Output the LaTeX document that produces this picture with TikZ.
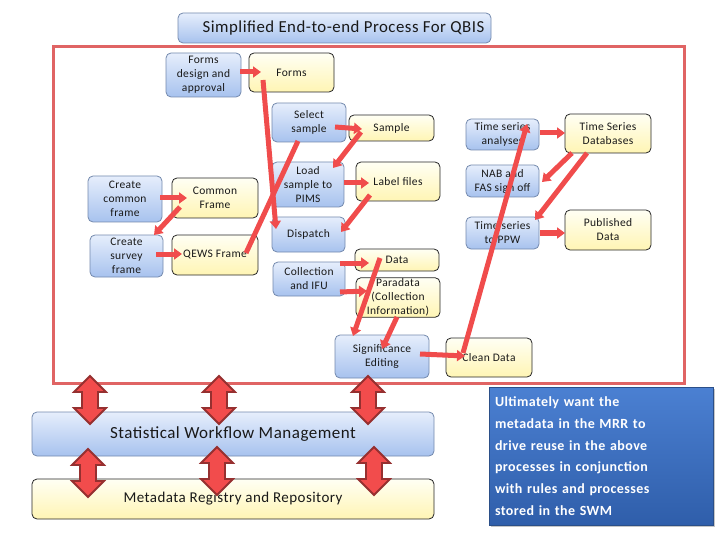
\documentclass[tikz,border=0pt]{standalone}
\usepackage{fontspec}
\setmainfont{Carlito}[LetterSpace=3]
\usetikzlibrary{arrows.meta,calc,shadows}
\definecolor{btop}{HTML}{E6EEFC}
\definecolor{bbot}{HTML}{A7C2EE}
\definecolor{bdraw}{HTML}{7389AD}
\definecolor{ytop}{HTML}{FFFFF4}
\definecolor{ybot}{HTML}{FFF5B4}
\definecolor{linkred}{HTML}{F04C4C}
\definecolor{framered}{HTML}{E06464}
\definecolor{arrfill}{HTML}{F24C4C}
\definecolor{arrdraw}{HTML}{963030}
\definecolor{ntop}{HTML}{4B80D2}
\definecolor{nbot}{HTML}{2F5EAA}
\definecolor{ndraw}{HTML}{2B4F88}
\newcommand\dblarr[3]{%
  \draw[blockarr] (#1,#2) -- ({#1+16},{#2+16}) -- ({#1+8},{#2+16}) -- ({#1+8},{#3-16}) -- ({#1+16},{#3-16}) -- (#1,#3) -- ({#1-16},{#3-16}) -- ({#1-8},{#3-16}) -- ({#1-8},{#2+16}) -- ({#1-16},{#2+16}) -- cycle;}
\begin{document}
\begin{tikzpicture}[x=1pt,y=-1pt,
  bluebox/.style={draw=bdraw, line width=0.8pt, rounded corners=5pt, top color=btop, bottom color=bbot, align=center, inner sep=1pt, text=black!90, font=\fontsize{11.5}{14}\selectfont},
  yellowbox/.style={draw=black!85, line width=0.8pt, rounded corners=5pt, top color=ytop, bottom color=ybot, align=center, inner sep=1pt, text=black!90, font=\fontsize{11.5}{14}\selectfont},
  link/.style={draw=linkred, line width=5pt, -{Triangle[length=8pt,width=11pt]}},
  plainlink/.style={draw=linkred, line width=5pt},
  blockarr/.style={fill=arrfill, draw=arrdraw, line width=1.8pt, line join=miter},
  notebox/.style={draw=ndraw, line width=0.8pt, top color=ntop, bottom color=nbot, text=white, align=left, text width=212pt, inner sep=0pt, font=\fontsize{14}{21.7}\selectfont\bfseries, drop shadow={opacity=0.45, shadow xshift=2pt, shadow yshift=-2pt}}
]
\useasboundingbox (0,0) rectangle (720,540);
% title
\node[bluebox, inner sep=0pt, minimum width=313pt, minimum height=30pt, font=\fontsize{16.8}{20}\selectfont] (title) at (334.5,28) {\hspace*{18pt}Simplified End-to-end Process For QBIS};
% frame
\draw[framered, line width=3pt] (53,47) rectangle (684,383);
% process nodes
\node[bluebox, minimum width=75pt, minimum height=44pt] (fda) at (203.5,75) {Forms\\design and\\approval};
\node[yellowbox, minimum width=85pt, minimum height=39pt] (forms) at (291.5,72.5) {Forms};
\node[bluebox, minimum width=74pt, minimum height=39pt] (sel) at (309,122.5) {Select\\sample};
\node[yellowbox, minimum width=85pt, minimum height=26pt] (samp) at (391.5,128) {Sample};
\node[bluebox, minimum width=72pt, minimum height=45pt] (load) at (308,184.5) {Load\\sample to\\PIMS};
\node[yellowbox, minimum width=84pt, minimum height=39pt] (lab) at (398,181.5) {Label files};
\node[bluebox, minimum width=73pt, minimum height=35pt] (disp) at (308.5,234.5) {Dispatch};
\node[bluebox, minimum width=72pt, minimum height=34pt] (coll) at (309,279) {Collection\\and IFU};
\node[yellowbox, minimum width=84pt, minimum height=22pt] (data) at (397,260) {Data};
\node[yellowbox, minimum width=84pt, minimum height=39pt] (para) at (398,297.5) {Paradata\\(Collection\\Information)};
\node[bluebox, minimum width=94pt, minimum height=43pt] (sig) at (382,356.5) {Significance\\Editing};
\node[yellowbox, minimum width=86pt, minimum height=39pt] (clean) at (489,357.5) {Clean Data};
\node[bluebox, minimum width=74pt, minimum height=46pt] (ccf) at (125,199) {Create\\common\\frame};
\node[yellowbox, minimum width=86pt, minimum height=40pt] (cf) at (215,198) {Common\\Frame};
\node[bluebox, minimum width=73pt, minimum height=42pt] (csf) at (126.5,256) {Create\\survey\\frame};
\node[yellowbox, minimum width=86pt, minimum height=40pt] (qews) at (215,255) {QEWS Frame};
\node[bluebox, minimum width=73pt, minimum height=31pt] (tsa) at (502.5,134.5) {Time series\\analyses};
\node[yellowbox, minimum width=86pt, minimum height=39pt] (tsdb) at (608,133.5) {Time Series\\Databases};
\node[bluebox, minimum width=73pt, minimum height=32pt] (nab) at (502.5,181) {NAB and\\FAS sign off};
\node[bluebox, minimum width=73pt, minimum height=32pt] (ppw) at (502.5,233) {Time series\\to PPW};
\node[yellowbox, minimum width=86pt, minimum height=40pt] (pub) at (608,230) {Published\\Data};
% bottom layers
\node[bluebox, minimum width=402pt, minimum height=44pt, font=\fontsize{17}{20}\selectfont] (swm) at (233,434) {Statistical Workflow Management};
\node[yellowbox, minimum width=402pt, minimum height=40pt, font=\fontsize{15}{18}\selectfont] (mrr) at (233,499) {Metadata Registry and Repository};
\node[notebox, minimum width=224pt, minimum height=138pt] (note) at (601,456) {Ultimately want the\\metadata in the MRR to\\drive reuse in the above\\processes in conjunction\\with rules and processes\\stored in the SWM};
% connectors
\draw[link] ($(fda)+(36.5,-3)$) -- ($(forms)+(-30.5,-0.5)$);
\draw[link] ($(forms)+(-28.5,7.5)$) -- ($(disp)+(-32.5,-5.5)$);
\draw[plainlink] ($(qews)+(31,-2)$) -- ($(sel)+(-11,18.5)$);
\draw[link] ($(sel)+(26,4.5)$) -- ($(samp)+(-29.5,1)$);
\draw[link] ($(samp)+(-30.5,4)$) -- ($(load)+(25,-16.5)$);
\draw[link] ($(load)+(36,-1.5)$) -- ($(lab)+(-29,1.5)$);
\draw[link] ($(lab)+(-28,13.5)$) -- ($(disp)+(32.5,-2.5)$);
\draw[link] ($(coll)+(31,-16)$) -- ($(data)+(-28,3)$);
\draw[link] ($(coll)+(31,13)$) -- ($(para)+(-31,-6.5)$);
\draw[link] ($(data)+(-17,-2)$) -- ($(sig)+(-29,-20.5)$);
\draw[link] ($(para)+(-1,19.5)$) -- ($(sig)+(0,-7.5)$);
\draw[link] ($(sig)+(38,-2.5)$) -- ($(clean)+(-24,-1.5)$);
\draw[link] ($(clean)+(-26,-4.5)$) -- ($(tsa)+(24.5,-10.5)$);
\draw[link] ($(ccf)+(35,-1)$) -- ($(cf)+(-28,0)$);
\draw[link] ($(cf)+(-35,9)$) -- ($(csf)+(27.5,-21)$);
\draw[link] ($(csf)+(29.5,-2)$) -- ($(qews)+(-33,-1)$);
\draw[link] ($(tsa)+(37.5,-1.5)$) -- ($(tsdb)+(-43,-0.5)$);
\draw[link] ($(tsdb)+(-36,19.5)$) -- ($(nab)+(39.5,1)$);
\draw[link] ($(tsdb)+(-21,19.5)$) -- ($(ppw)+(32.5,-13)$);
\draw[link] ($(ppw)+(37.5,0)$) -- ($(pub)+(-43,3)$);
% block arrows
\dblarr{90}{376}{424}
\dblarr{219}{376}{424}
\dblarr{368}{376}{424}
\dblarr{88}{449}{497}
\dblarr{217}{447}{495}
\dblarr{374}{447}{495}
\end{tikzpicture}
\end{document}
